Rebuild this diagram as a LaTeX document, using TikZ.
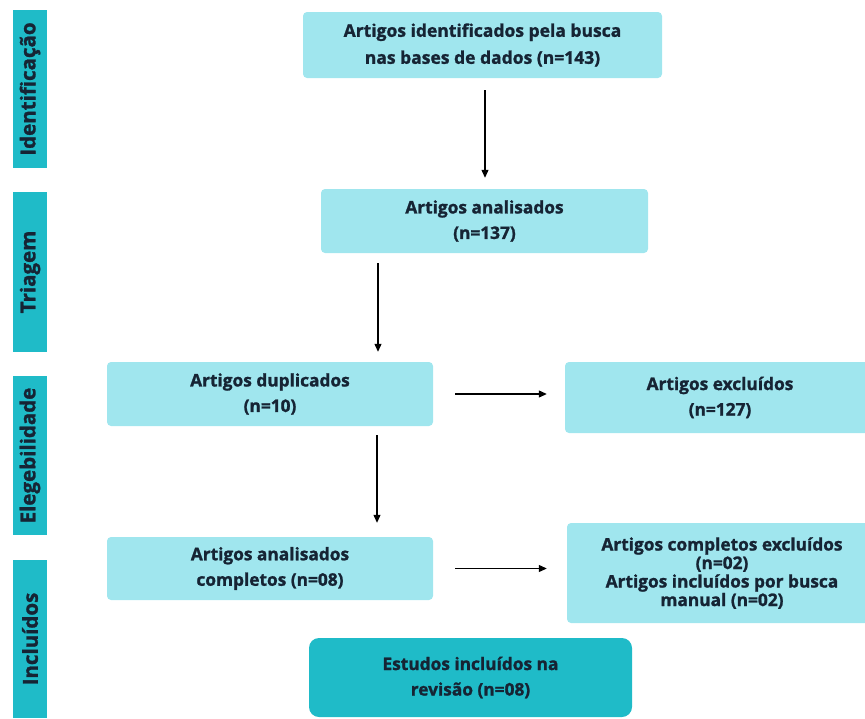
\documentclass[tikz,border=0pt]{standalone}
\usepackage{fontspec}
\setmainfont{Open Sans}[BoldFeatures={FakeBold=1.3}]
\usetikzlibrary{arrows.meta,positioning}
\definecolor{boxfill}{RGB}{160,230,238}
\definecolor{teal}{RGB}{31,187,200}
\definecolor{ink}{RGB}{22,36,52}
\tikzset{
  box/.style={rectangle, rounded corners=4pt, fill=boxfill, draw=none, align=center,
    font=\bfseries\fontsize{17.3}{25.5}\selectfont, text=ink, inner sep=0pt},
  finalbox/.style={box, fill=teal, rounded corners=10pt},
  sidebar/.style={rectangle, fill=teal, draw=none, rotate=90, text=ink,
    font=\bfseries\fontsize{20.5}{22}\selectfont, inner sep=0pt, minimum height=34pt},
  arr/.style={-{Triangle[length=8pt,width=7pt]}, line width=1.1pt, black}
}
\begin{document}
\begin{tikzpicture}[x=1pt,y=-1pt]
\useasboundingbox (0,0) rectangle (865,718);
% side bars
\node[sidebar, minimum width=158pt] (s1) at (30,89) {Identificação};
\node[sidebar, minimum width=160pt] (s2) at (30,272) {Triagem};
\node[sidebar, minimum width=159pt] (s3) at (30,455.5) {Elegebilidade};
\node[sidebar, minimum width=158pt] (s4) at (30,639) {Incluídos};
% boxes
\node[box, minimum width=359pt, minimum height=66pt, font=\bfseries\fontsize{17.5}{27}\selectfont] (top) at (482.5,45)
  {Artigos identificados pela busca\\nas bases de dados (n=143)};
\node[box, minimum width=327pt, minimum height=64pt] (ana) at (484.5,221)
  {Artigos analisados\\(n=137)};
\node[box, minimum width=326pt, minimum height=64pt] (dup) at (270,394)
  {Artigos duplicados\\(n=10)};
\node[box, minimum width=310pt, minimum height=71pt] (exc) at (720,397.5)
  {Artigos excluídos\\(n=127)};
\node[box, minimum width=310pt, minimum height=100pt, font=\bfseries\fontsize{17.3}{18.5}\selectfont] (rb) at (722,573)
  {Artigos completos excluídos\\(n=02)\\Artigos incluídos por busca\\manual (n=02)};
\node[box, minimum width=326pt, minimum height=63pt] (comp) at (270,568.5)
  {Artigos analisados\\completos (n=08)};
\node[finalbox, minimum width=323pt, minimum height=79pt] (fin) at (470.5,677.5)
  {Estudos incluídos na\\revisão (n=08)};
% helper coordinates for connector columns
\coordinate (c1) at (485,0);
\coordinate (c2) at (378,0);
\coordinate (c3) at (377,0);
% connectors
\draw[arr, shorten <=12pt, shorten >=11pt] (top.south -| c1) -- (ana.north -| c1);
\draw[arr, shorten <=10pt, shorten >=10pt] (ana.south -| c2) -- (dup.north -| c2);
\draw[arr, shorten <=22pt, shorten >=18pt] (dup.east) -- (dup.east -| exc.west);
\draw[arr, shorten <=9pt, shorten >=14pt] (dup.south -| c3) -- (comp.north -| c3);
\draw[arr, shorten <=22pt, shorten >=20pt] (comp.east) -- (comp.east -| rb.west);
\end{tikzpicture}
\end{document}
